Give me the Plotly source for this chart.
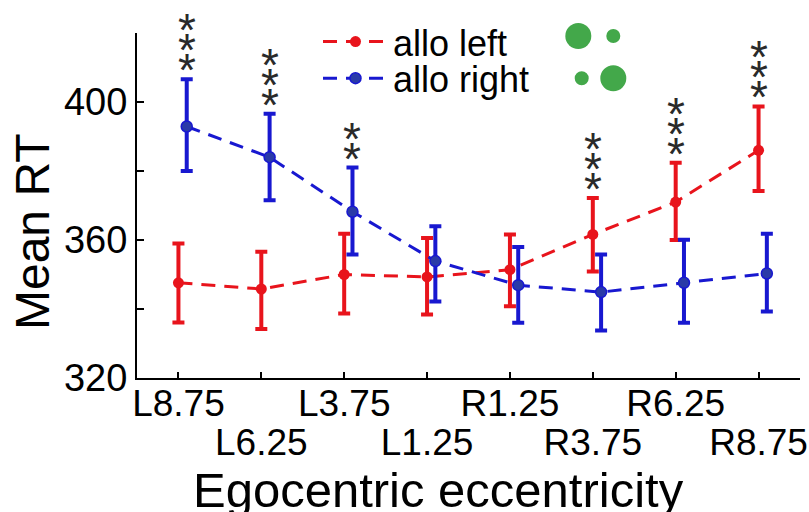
import plotly.graph_objects as go

categories = ["L8.75", "L6.25", "L3.75", "L1.25", "R1.25", "R3.75", "R6.25", "R8.75"]

red_name = "allo left"
red_mean = [347.6, 345.8, 350.0, 349.3, 351.4, 361.6, 371.0, 386.0]
red_upper = [359.0, 356.6, 361.8, 360.6, 361.6, 372.2, 382.4, 398.7]
red_lower = [336.1, 334.2, 338.7, 338.4, 340.8, 350.9, 360.0, 374.2]

blue_name = "allo right"
blue_mean = [392.9, 384.0, 368.2, 353.9, 346.9, 344.9, 347.6, 350.3]
blue_upper = [406.6, 396.6, 381.0, 364.0, 358.0, 355.8, 360.1, 361.8]
blue_lower = [380.0, 371.5, 355.8, 342.2, 336.0, 333.8, 336.0, 339.3]

sig_stars = [3, 3, 2, 0, 0, 3, 3, 3]

y_tickvals = [320, 340, 360, 380, 400, 420]
y_ticktext = ["320", "", "360", "", "400", ""]

RED = "#e8141c"
BLUE = "#1818d0"
BLUE_MK = "#2a3aa8"
FONT = "Liberation Sans, Arial, sans-serif"

idx = list(range(len(categories)))
red_x = [i + 0.0 for i in idx]
blue_x = [i + 0.1 for i in idx]

fig = go.Figure()

fig.add_trace(go.Scatter(
    x=red_x, y=red_mean, name=red_name, mode="lines+markers",
    line=dict(color=RED, width=3, dash="14px,9px"),
    marker=dict(color=RED, size=11),
    error_y=dict(type="data", symmetric=False,
                 array=[u - m for u, m in zip(red_upper, red_mean)],
                 arrayminus=[m - l for m, l in zip(red_mean, red_lower)],
                 color=RED, thickness=4, width=6),
    legend="legend",
))
fig.add_trace(go.Scatter(
    x=blue_x, y=blue_mean, name=blue_name, mode="lines+markers",
    line=dict(color=BLUE, width=3, dash="14px,9px"),
    marker=dict(color=BLUE_MK, size=11, line=dict(color=BLUE, width=1.5)),
    error_y=dict(type="data", symmetric=False,
                 array=[u - m for u, m in zip(blue_upper, blue_mean)],
                 arrayminus=[m - l for m, l in zip(blue_mean, blue_lower)],
                 color=BLUE, thickness=4, width=6),
    legend="legend2",
))
# helper trace so the second-row tick axis is drawn
fig.add_trace(go.Scatter(x=idx, y=[None] * len(idx), xaxis="x2", showlegend=False,
                         hoverinfo="skip", mode="markers"))

annotations = []
for i, n in enumerate(sig_stars):
    if n == 0:
        continue
    if red_upper[i] >= blue_upper[i]:
        sx, sy = red_x[i], red_upper[i]
    else:
        sx, sy = blue_x[i], blue_upper[i]
    for k in range(n):
        annotations.append(dict(
            x=sx, y=sy, xref="x", yref="y", text="*", showarrow=False,
            font=dict(family=FONT, size=46, color="#2a2a2a"),
            xanchor="center", yanchor="middle", yshift=9 + 20 * k,
        ))

W, H = 809, 512
L, R, T, B = 137, 9, 33, 134
pw, ph = W - L - R, H - T - B


def px(xp):
    return (xp - L) / pw


def py(yp):
    return (H - B - yp) / ph


annotations.append(dict(
    x=px(32), y=py(232), xref="paper", yref="paper", text="Mean RT",
    textangle=-90, showarrow=False, font=dict(family=FONT, size=48, color="black"),
    xanchor="center", yanchor="middle"))
annotations.append(dict(
    x=px(438), y=py(489.5), xref="paper", yref="paper", text="Egocentric eccentricity",
    showarrow=False, font=dict(family=FONT, size=49, color="black"),
    xanchor="center", yanchor="middle"))

shapes = []
for (cx, cy, r) in [(578.3, 36, 13), (613.3, 36, 7), (581.7, 78.3, 7), (613.3, 78.3, 13)]:
    shapes.append(dict(type="circle", xref="paper", yref="paper",
                       xsizemode="pixel", ysizemode="pixel",
                       xanchor=px(cx), yanchor=py(cy),
                       x0=-r, x1=r, y0=-r, y1=r,
                       fillcolor="#43a84a", line=dict(width=0)))

row1 = [c if i % 2 == 0 else "" for i, c in enumerate(categories)]
row2 = [c if i % 2 == 1 else "" for i, c in enumerate(categories)]

fig.update_layout(
    width=W, height=H, autosize=False,
    margin=dict(l=L, r=R, t=T, b=B, pad=0, autoexpand=False),
    paper_bgcolor="white", plot_bgcolor="white",
    font=dict(family=FONT, color="black"),
    showlegend=True,
    legend=dict(x=px(318), y=py(41.7), xanchor="left", yanchor="middle",
                font=dict(size=36, family=FONT), bgcolor="rgba(0,0,0,0)",
                itemwidth=65),
    legend2=dict(x=px(318), y=py(78.3), xanchor="left", yanchor="middle",
                 font=dict(size=36, family=FONT), bgcolor="rgba(0,0,0,0)",
                 itemwidth=65),
    xaxis=dict(range=[-0.5, 7.5], tickvals=idx, ticktext=row1,
               ticks="inside", ticklen=6, tickwidth=2, tickcolor="black",
               showline=True, linewidth=2, linecolor="black",
               showgrid=False, zeroline=False, ticklabelstandoff=-8,
               ticklabeloverflow="allow",
               tickfont=dict(size=37, family=FONT)),
    xaxis2=dict(range=[-0.5, 7.5], overlaying="x", anchor="y", side="bottom",
                tickvals=idx, ticktext=row2, ticks="", showline=False,
                showgrid=False, zeroline=False, ticklabelstandoff=39,
                ticklabeloverflow="allow",
                tickfont=dict(size=37, family=FONT)),
    yaxis=dict(range=[320, 420], tickvals=y_tickvals, ticktext=y_ticktext,
               ticks="inside", ticklen=7, tickwidth=2, tickcolor="black",
               showline=True, linewidth=2, linecolor="black",
               showgrid=False, zeroline=False,
               tickfont=dict(size=38, family=FONT)),
    annotations=annotations,
    shapes=shapes,
)

fig.write_html(
    "out.html",
    config={"displayModeBar": False},
    post_script="document.body.style.margin='0';document.body.style.overflow='hidden';",
)
